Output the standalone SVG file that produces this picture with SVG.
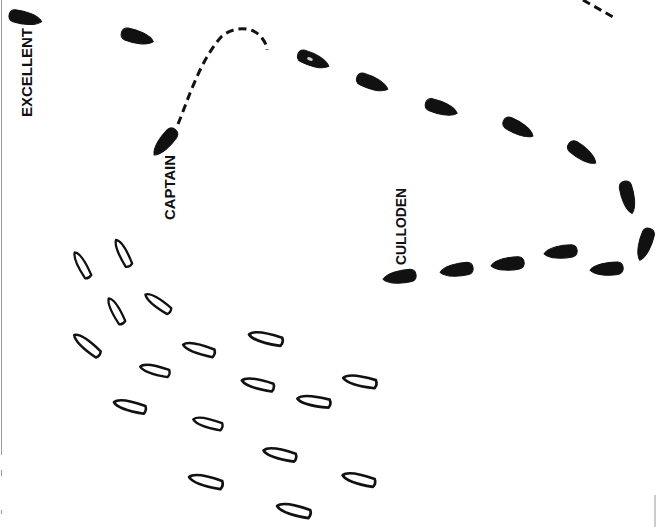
<svg xmlns="http://www.w3.org/2000/svg" width="656" height="527" viewBox="0 0 656 527">
<style>
.bk{fill:#111;stroke:#111;stroke-width:1}
.wh{fill:#fff;stroke:#111;stroke-width:2.6;stroke-linejoin:round}
.lbl{font-family:"Liberation Sans",Arial,sans-serif;font-weight:bold;font-size:14px;fill:#111}
.dash{fill:none;stroke:#111;stroke-width:3;stroke-dasharray:8,5}
.edge{stroke:#999;stroke-width:1;fill:none}
.spk{fill:#fff;opacity:0.8}
</style>
<defs>
<path id="hullB" d="M17,0 C12,-6 -2,-7 -11,-6.2 C-18,-5 -18,5 -11,6.2 C-2,7 12,6 17,0 Z"/>
<path id="hullW" d="M-16.5,0 C-13,-5 -2,-5.4 15,-3.5 C16.5,-1.2 16.5,2.2 15,4.5 C0,5.4 -12,4.6 -16.5,0 Z"/>
</defs>
<rect width="656" height="527" fill="#fff"/>
<g id="borders">
<line class="edge" x1="1.5" y1="0" x2="1.5" y2="455"/>
<line class="edge" x1="1.5" y1="470" x2="1.5" y2="476"/>
<line class="edge" x1="1.5" y1="510" x2="1.5" y2="514"/>
<line class="edge" x1="655" y1="495" x2="655" y2="527"/>
</g>
<g id="connectors">
<path class="dash" d="M178,124 C188,100 200,60 222,36 C236,25 254,27 262,38 C265,42 267,46 267,50"/>
<path class="dash" stroke-width="2.5" d="M583,0 L613,17"/>
</g>
<g id="british">
<g id="ship-excellent"><use href="#hullB" class="bk" transform="translate(25,18) rotate(12)"/></g>
<g id="ship-b2"><use href="#hullB" class="bk" transform="translate(137,37) rotate(16)"/></g>
<g id="ship-captain"><use href="#hullB" class="bk" transform="translate(165,142) rotate(130)"/></g>
<g id="ship-b4"><use href="#hullB" class="bk" transform="translate(313,60) rotate(22)"/><ellipse class="spk" cx="310" cy="59" rx="3" ry="1.6" transform="rotate(22 310 59)"/></g>
<g id="ship-b5"><use href="#hullB" class="bk" transform="translate(372,83) rotate(22)"/></g>
<g id="ship-b6"><use href="#hullB" class="bk" transform="translate(441,108) rotate(18)"/></g>
<g id="ship-b7"><use href="#hullB" class="bk" transform="translate(518,128) rotate(28)"/></g>
<g id="ship-b8"><use href="#hullB" class="bk" transform="translate(582,153) rotate(36)"/></g>
<g id="ship-b9"><use href="#hullB" class="bk" transform="translate(628,197) rotate(76)"/></g>
<g id="ship-b10"><use href="#hullB" class="bk" transform="translate(645,244) rotate(108)"/></g>
<g id="ship-b11"><use href="#hullB" class="bk" transform="translate(607,269) rotate(176)"/></g>
<g id="ship-b12"><use href="#hullB" class="bk" transform="translate(561,252) rotate(174)"/></g>
<g id="ship-b13"><use href="#hullB" class="bk" transform="translate(508,264) rotate(174)"/></g>
<g id="ship-b14"><use href="#hullB" class="bk" transform="translate(457,270) rotate(172)"/></g>
<g id="ship-culloden"><use href="#hullB" class="bk" transform="translate(400,277) rotate(172)"/></g>
</g>
<g id="spanish">
<g id="s1"><use href="#hullW" class="wh" transform="translate(82,265) rotate(60) scale(0.88)"/></g>
<g id="s2"><use href="#hullW" class="wh" transform="translate(123,253) rotate(62) scale(0.9)"/></g>
<g id="s3"><use href="#hullW" class="wh" transform="translate(116,311) rotate(60) scale(0.88)"/></g>
<g id="s4"><use href="#hullW" class="wh" transform="translate(158,303) rotate(34) scale(0.92)"/></g>
<g id="s5"><use href="#hullW" class="wh" transform="translate(87,345) rotate(38) scale(0.98)"/></g>
<g id="s6"><use href="#hullW" class="wh" transform="translate(199,349) rotate(15)"/></g>
<g id="s7"><use href="#hullW" class="wh" transform="translate(155,370) rotate(13) scale(0.92)"/></g>
<g id="s8"><use href="#hullW" class="wh" transform="translate(130,406) rotate(13)"/></g>
<g id="s9"><use href="#hullW" class="wh" transform="translate(266,338) rotate(12) scale(1.05)"/></g>
<g id="s10"><use href="#hullW" class="wh" transform="translate(258,384) rotate(12)"/></g>
<g id="s11"><use href="#hullW" class="wh" transform="translate(360,381) rotate(10) scale(1.03)"/></g>
<g id="s12"><use href="#hullW" class="wh" transform="translate(314,401) rotate(8) scale(1.02)"/></g>
<g id="s13"><use href="#hullW" class="wh" transform="translate(208,423) rotate(14) scale(0.92)"/></g>
<g id="s14"><use href="#hullW" class="wh" transform="translate(280,454) rotate(12) scale(1.02)"/></g>
<g id="s15"><use href="#hullW" class="wh" transform="translate(206,481) rotate(13) scale(1.05)"/></g>
<g id="s16"><use href="#hullW" class="wh" transform="translate(359,479) rotate(13) scale(1.02)"/></g>
<g id="s17"><use href="#hullW" class="wh" transform="translate(294,510) rotate(13) scale(1.05)"/></g>
</g>
<g id="labels">
<text class="lbl" transform="translate(32,117) rotate(-90)" textLength="89" lengthAdjust="spacingAndGlyphs">EXCELLENT</text>
<text class="lbl" transform="translate(175,220) rotate(-90)" textLength="65" lengthAdjust="spacingAndGlyphs">CAPTAIN</text>
<text class="lbl" transform="translate(406,265) rotate(-90)" textLength="77" lengthAdjust="spacingAndGlyphs">CULLODEN</text>
</g>
</svg>
